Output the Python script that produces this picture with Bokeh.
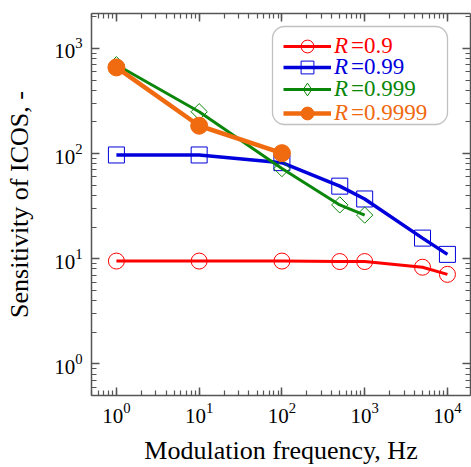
import math
from bokeh.plotting import figure
from bokeh.models import (LogAxis, LogTicker, Legend, LegendItem, BoxAnnotation,
                          Range1d)
from bokeh.embed import file_html
from bokeh.resources import INLINE

# ---- data ----
freq_r = [1, 10, 100, 500, 1000, 5000, 10000]
sens_r = [9.5, 9.5, 9.5, 9.4, 9.4, 8.3, 7.1]

freq_b = [1, 10, 100, 500, 1000, 5000, 10000]
sens_b = [97, 97, 82, 49, 37, 15.7, 11]

freq_g = [1, 10, 100, 500, 1000]
sens_g = [700, 250, 72, 32.5, 26]

freq_o = [1, 10, 100]
sens_o = [660, 184, 101]

label_var = "R"
label_vals = ["=0.9", "=0.99", "=0.999", "=0.9999"]
colors = ["#ff0000", "#0000dd", "#0a870a", "#f06a10"]

FONT = "Liberation Serif"
AX = "#555555"

p = figure(width=471, height=467, x_axis_type="log", y_axis_type="log",
           x_range=(0.5, 19000), y_range=(0.5, 2150),
           output_backend="svg", toolbar_location=None,
           min_border_left=91, min_border_right=1, min_border_top=13,
           min_border_bottom=69)
p.outline_line_color = None
p.xgrid.visible = False
p.ygrid.visible = False
p.background_fill_color = "white"
p.border_fill_color = "white"
# a range far outside the view, used only for a legend sample renderer
p.extra_y_ranges = {"legend_only": Range1d(1e8, 1e9)}

r1 = p.line(freq_r, sens_r, color=colors[0], line_width=3)
m1 = p.scatter(freq_r, sens_r, marker="circle", size=16, fill_color=None,
               line_color=colors[0], line_width=1)
r2 = p.line(freq_b, sens_b, color=colors[1], line_width=3.5)
m2 = p.scatter(freq_b, sens_b, marker="square", size=16, fill_color=None,
               line_color=colors[1], line_width=1)
r3 = p.line(freq_g, sens_g, color=colors[2], line_width=3)
m3 = p.scatter(freq_g, sens_g, marker="square", size=11.5, angle=math.pi / 4,
               fill_color=None, line_color=colors[2], line_width=1)
r4 = p.line(freq_o, sens_o, color=colors[3], line_width=4.5)
m4 = p.scatter(freq_o, sens_o, marker="circle", size=17, fill_color=colors[3],
               line_color=colors[3], line_width=1)
dummy = p.line([], [], line_alpha=0)
# legend-only diamond sample (mapped off-screen, so nothing is drawn in the plot)
g_leg = p.scatter(freq_g, sens_g, y_range_name="legend_only",
                  marker="diamond", size=16, fill_color=None,
                  line_color=colors[2], line_width=1)


def style_axis(ax, show_labels):
    ax.axis_line_color = AX
    ax.axis_line_width = 1.5
    ax.major_tick_line_color = AX
    ax.minor_tick_line_color = AX
    ax.major_tick_line_width = 1.5
    ax.minor_tick_line_width = 1.2
    ax.major_tick_in = 8
    ax.major_tick_out = 0
    ax.minor_tick_in = 5
    ax.minor_tick_out = 0
    if show_labels:
        ax.major_label_text_font = FONT
        ax.major_label_text_font_size = "21px"
        ax.major_label_text_color = "black"
        ax.major_label_standoff = 9
        ax.axis_label_text_font = FONT
        ax.axis_label_text_font_size = "26px"
        ax.axis_label_text_font_style = "normal"
        ax.axis_label_text_color = "black"
    else:
        ax.major_label_text_font_size = "1px"
        ax.major_label_text_alpha = 0
        ax.major_label_standoff = 0


p.xaxis[0].ticker = LogTicker(num_minor_ticks=10)
p.yaxis[0].ticker = LogTicker(num_minor_ticks=10)
style_axis(p.xaxis[0], True)
style_axis(p.yaxis[0], True)
p.xaxis[0].axis_label = "Modulation frequency, Hz"
p.yaxis[0].axis_label = "Sensitivity of ICOS, -"
p.xaxis[0].major_label_standoff = 7
p.xaxis[0].axis_label_standoff = 10
p.xaxis[0].axis_label_text_line_height = 1.0
p.yaxis[0].axis_label_standoff = 17

top = LogAxis(ticker=LogTicker(num_minor_ticks=10))
right = LogAxis(ticker=LogTicker(num_minor_ticks=10))
style_axis(top, False)
style_axis(right, False)
p.add_layout(top, "above")
p.add_layout(right, "right")

# legend frame (screen units relative to the plot frame)
box = BoxAnnotation(left=181, right=356, bottom=271, top=369,
                    left_units="screen", right_units="screen",
                    top_units="screen", bottom_units="screen",
                    fill_color="white", fill_alpha=1.0,
                    line_color="#333333", line_width=1.3)
try:
    box.border_radius = 12
except Exception:
    pass
p.add_layout(box)

GH = 32
rows_y = [333, 312, 290, 266]
groups = [[r1, m1], [r2, m2], [r3, g_leg], [r4, m4]]
for rends, val, col, yy in zip(groups, label_vals, colors, rows_y):
    lg = Legend(items=[LegendItem(label=label_var, renderers=rends)],
                location=(192, yy), padding=0, margin=0, spacing=0,
                glyph_width=48, glyph_height=GH, label_height=GH,
                label_standoff=3, border_line_alpha=0,
                background_fill_alpha=0,
                label_text_font=FONT, label_text_font_size="23px",
                label_text_font_style="italic",
                label_text_color=col)
    p.add_layout(lg, "center")
    lg2 = Legend(items=[LegendItem(label=val, renderers=[dummy])],
                 location=(260, yy), padding=0, margin=0, spacing=0,
                 glyph_width=0, glyph_height=GH, label_height=GH,
                 label_standoff=0, border_line_alpha=0,
                 background_fill_alpha=0,
                 label_text_font=FONT, label_text_font_size="23px",
                 label_text_color=col)
    p.add_layout(lg2, "center")

open("out.html", "w").write(file_html(p, INLINE))
